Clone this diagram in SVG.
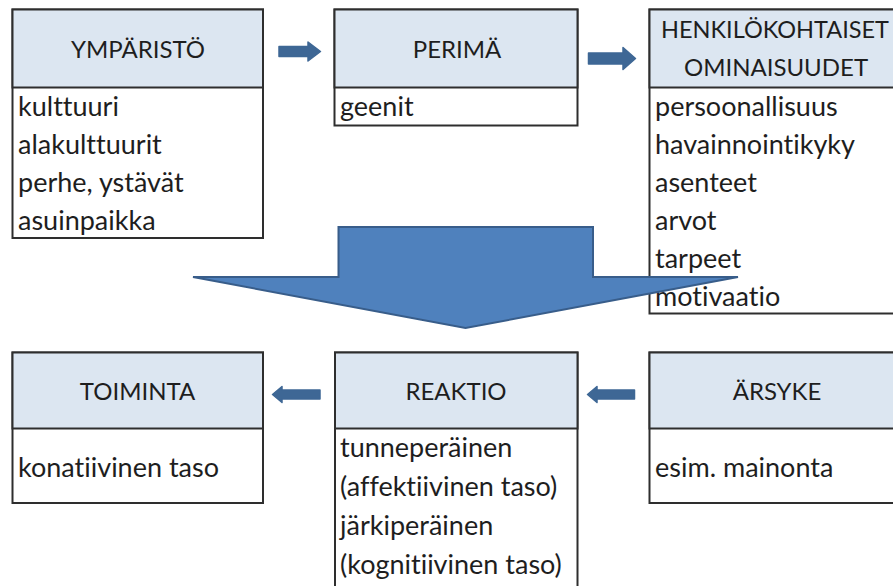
<svg xmlns="http://www.w3.org/2000/svg" width="893" height="586" viewBox="0 0 893 586">
  <style>
    .box { fill: #ffffff; stroke: #2e2e2e; stroke-width: 2; }
    .head { fill: #dce6f1; stroke: #2e2e2e; stroke-width: 2; }
    text { font-variant-ligatures: none; font-feature-settings: "liga" 0, "clig" 0; }
    .title { font-family: Lato, "Liberation Sans", sans-serif; font-size: 24px; fill: #1e1e1e; text-anchor: middle; }
    .item { font-family: Lato, "Liberation Sans", sans-serif; font-size: 27px; fill: #1e1e1e; }
    .small { fill: #3e6795; stroke: #3e6795; stroke-width: 1.5; stroke-linejoin: round; }
    .big { fill: #4f81bd; stroke: #385d8a; stroke-width: 2; stroke-linejoin: miter; }
  </style>

  <rect width="893" height="586" fill="#ffffff"/>

  <!-- top row -->
  <g id="ymparisto">
    <rect class="box" x="12.5" y="9.5" width="250.5" height="228.5"/>
    <rect class="head" x="12.5" y="9.5" width="250.5" height="78"/>
    <text class="title" x="138" y="58">YMPÄRISTÖ</text>
    <text class="item" x="18" y="116">kulttuuri</text>
    <text class="item" x="18" y="154">alakulttuurit</text>
    <text class="item" x="18" y="192">perhe, ystävät</text>
    <text class="item" x="18" y="230">asuinpaikka</text>
  </g>

  <g id="perima">
    <rect class="box" x="334.5" y="9.5" width="243" height="116"/>
    <rect class="head" x="334.5" y="9.5" width="243" height="78"/>
    <text class="title" x="457" y="58">PERIMÄ</text>
    <text class="item" x="340" y="116">geenit</text>
  </g>

  <g id="henkilokohtaiset">
    <rect class="box" x="649.5" y="9.5" width="250" height="304"/>
    <rect class="head" x="649.5" y="9.5" width="250" height="78"/>
    <text class="title" x="775" y="38" textLength="228" lengthAdjust="spacingAndGlyphs">HENKILÖKOHTAISET</text>
    <text class="title" x="776" y="76">OMINAISUUDET</text>
    <text class="item" x="655" y="116">persoonallisuus</text>
    <text class="item" x="655" y="154">havainnointikyky</text>
    <text class="item" x="655" y="192">asenteet</text>
    <text class="item" x="655" y="230">arvot</text>
    <text class="item" x="655" y="268">tarpeet</text>
    <text class="item" x="655" y="306">motivaatio</text>
  </g>

  <!-- bottom row -->
  <g id="toiminta">
    <rect class="box" x="12.5" y="352.5" width="250.5" height="150.5"/>
    <rect class="head" x="12.5" y="352.5" width="250.5" height="76"/>
    <text class="title" x="137.5" y="400">TOIMINTA</text>
    <text class="item" x="18" y="477">konatiivinen taso</text>
  </g>

  <g id="reaktio">
    <rect class="box" x="335" y="352.5" width="242.5" height="250"/>
    <rect class="head" x="335" y="352.5" width="242.5" height="76"/>
    <text class="title" x="456" y="400">REAKTIO</text>
    <text class="item" x="340" y="457">tunneperäinen</text>
    <text class="item" x="340" y="496">(affektiivinen taso)</text>
    <text class="item" x="340" y="535">järkiperäinen</text>
    <text class="item" x="340" y="574">(kognitiivinen taso)</text>
  </g>

  <g id="arsyke">
    <rect class="box" x="649.5" y="352.5" width="250" height="150.5"/>
    <rect class="head" x="649.5" y="352.5" width="250" height="76"/>
    <text class="title" x="777" y="400">ÄRSYKE</text>
    <text class="item" x="655" y="477">esim. mainonta</text>
  </g>

  <!-- connectors -->
  <g id="connectors">
    <polygon class="small" points="279,46.5 308,46.5 308,42 320.5,51.5 308,61 308,56.5 279,56.5"/>
    <polygon class="small" points="588.5,53 623,53 623,47.5 635.5,58.5 623,69.5 623,64 588.5,64"/>
    <polygon class="small" points="320,390 282,390 282,386.5 272.5,394.5 282,402.5 282,399 320,399"/>
    <polygon class="small" points="634.5,390 597,390 597,386.5 587.5,394.5 597,402.5 597,399 634.5,399"/>
    <polygon class="big" points="338.5,227 593,227 593,277 738,277 465.5,328 193,277 338.5,277"/>
  </g>
</svg>
